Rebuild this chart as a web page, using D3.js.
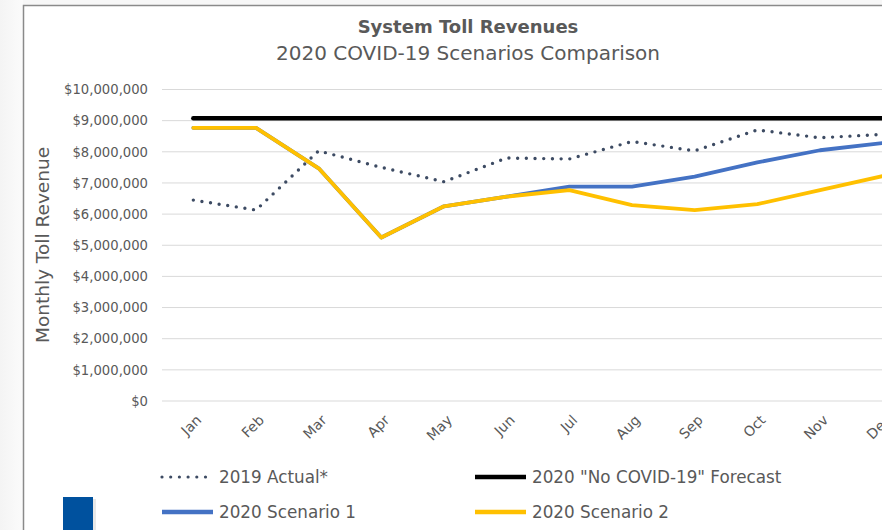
<!DOCTYPE html>
<html><head><meta charset="utf-8">
<script src="https://cdn.jsdelivr.net/npm/d3@7"></script>
<style>
html,body{margin:0;padding:0;background:#fff;}
svg{display:block;font-family:"DejaVu Sans",sans-serif;}
</style></head>
<body>
<svg id="c" width="882" height="530"></svg>
<script>
const months = ["Jan","Feb","Mar","Apr","May","Jun","Jul","Aug","Sep","Oct","Nov","Dec"];
const actual2019 = [6450000,6130000,8030000,7500000,7040000,7800000,7770000,8330000,8030000,8700000,8450000,8560000];
const forecastNoCovid = [9080000,9080000,9080000,9080000,9080000,9080000,9080000,9080000,9080000,9080000,9080000,9080000];
const scenario1 = [8770000,8770000,7470000,5250000,6250000,6560000,6880000,6880000,7200000,7660000,8050000,8280000];
const scenario2 = [8770000,8770000,7470000,5250000,6250000,6560000,6770000,6290000,6130000,6320000,6770000,7220000];
const yTicks = [0,1000000,2000000,3000000,4000000,5000000,6000000,7000000,8000000,9000000,10000000];
const seriesNames = ["2019 Actual*","2020 \"No COVID-19\" Forecast","2020 Scenario 1","2020 Scenario 2"];

const svg = d3.select("#c");
const W = 882, H = 530;

// slide-like background on left
const defs = svg.append("defs");
const g1 = defs.append("linearGradient").attr("id","lg").attr("x1","0").attr("x2","1");
g1.append("stop").attr("offset","0").attr("stop-color","#f4f4f4");
g1.append("stop").attr("offset","1").attr("stop-color","#fbfbfb");
svg.append("rect").attr("x",0).attr("y",0).attr("width",23).attr("height",H).attr("fill","url(#lg)");
svg.append("rect").attr("x",23).attr("y",0).attr("width",W).attr("height",5).attr("fill","#f7f7f7");
svg.append("rect").attr("x",23).attr("y",5).attr("width",W).attr("height",H).attr("fill","#fff");
// chart border
svg.append("path").attr("d",`M23.5,${H} V5.5 H${W}`).attr("fill","none").attr("stroke","#8a8a8a").attr("stroke-width",1.5);

const x = d3.scaleBand().domain(months).range([162, 914]);
const y = d3.scaleLinear().domain([0,10000000]).range([401, 89.5]);

// gridlines
svg.append("g").selectAll("line").data(yTicks).join("line")
  .attr("x1",162).attr("x2",914)
  .attr("y1",d=>y(d)).attr("y2",d=>y(d))
  .attr("stroke","#d9d9d9").attr("stroke-width",1);

// y axis labels
const yAxis = d3.axisLeft(y).tickValues(yTicks).tickSize(0).tickPadding(0)
  .tickFormat(d=>"$"+d3.format(",")(d));
const ya = svg.append("g").attr("transform","translate(148,0)").call(yAxis);
ya.select(".domain").remove();
ya.selectAll("text").attr("fill","#595959").attr("font-size",13.2).attr("font-family","DejaVu Sans");

// x axis labels
const xAxis = d3.axisBottom(x).tickSize(0).tickPadding(0);
const xa = svg.append("g").attr("transform","translate(0,401)").call(xAxis);
xa.select(".domain").remove();
xa.selectAll("text").attr("fill","#595959").attr("font-size",14).attr("font-family","DejaVu Sans")
  .attr("text-anchor","end").attr("dy",0).attr("y",0)
  .attr("transform","translate(9,20) rotate(-45)");

const cx = d => x(d) + x.bandwidth()/2;
const line = d3.line().x((d,i)=>cx(months[i])).y(d=>y(d));

svg.append("path").datum(actual2019).attr("d",line).attr("fill","none")
  .attr("stroke","#3d4b63").attr("stroke-width",3.4).attr("stroke-linecap","round")
  .attr("stroke-dasharray","0,8.7");
svg.append("path").datum(forecastNoCovid).attr("d",line).attr("fill","none")
  .attr("stroke","#000").attr("stroke-width",4.5).attr("stroke-linecap","round");
svg.append("path").datum(scenario1).attr("d",line).attr("fill","none")
  .attr("stroke","#4472c4").attr("stroke-width",3.8).attr("stroke-linecap","round").attr("stroke-linejoin","round");
svg.append("path").datum(scenario2).attr("d",line).attr("fill","none")
  .attr("stroke","#ffc000").attr("stroke-width",3.8).attr("stroke-linecap","round").attr("stroke-linejoin","round");

// titles
svg.append("text").attr("x",468).attr("y",33).attr("text-anchor","middle")
  .attr("font-size",18).attr("font-weight","bold").attr("fill","#595959").text("System Toll Revenues");
svg.append("text").attr("x",468).attr("y",60).attr("text-anchor","middle")
  .attr("font-size",20).attr("fill","#595959").text("2020 COVID-19 Scenarios Comparison");

// y axis title
svg.append("text").attr("transform","translate(49,245) rotate(-90)").attr("text-anchor","middle")
  .attr("font-size",18.5).attr("fill","#595959").text("Monthly Toll Revenue");

// legend
const legend = [
  {name:seriesNames[0], color:"#3d4b63", w:3.2, dash:"0,8.7", x:162, y:477},
  {name:seriesNames[1], color:"#000", w:4.5, dash:null, x:475, y:477},
  {name:seriesNames[2], color:"#4472c4", w:4.5, dash:null, x:162, y:512},
  {name:seriesNames[3], color:"#ffc000", w:4.5, dash:null, x:475, y:512}
];
const lg = svg.append("g").selectAll("g").data(legend).join("g");
lg.append("line").attr("x1",d=>d.x).attr("x2",d=>d.x+51).attr("y1",d=>d.y).attr("y2",d=>d.y)
  .attr("stroke",d=>d.color).attr("stroke-width",d=>d.w).attr("stroke-linecap",d=>d.dash?"round":"butt")
  .attr("stroke-dasharray",d=>d.dash);
lg.append("text").attr("x",d=>d.x+57).attr("y",d=>d.y+6).attr("font-size",16.8)
  .attr("fill","#595959").text(d=>d.name);

// blue square decoration
svg.append("rect").attr("x",66).attr("y",499).attr("width",30).attr("height",33).attr("fill","#d8d8d8").attr("opacity",0.6);
svg.append("rect").attr("x",63).attr("y",497).attr("width",30).attr("height",33).attr("fill","#00519e");
</script>
</body></html>
